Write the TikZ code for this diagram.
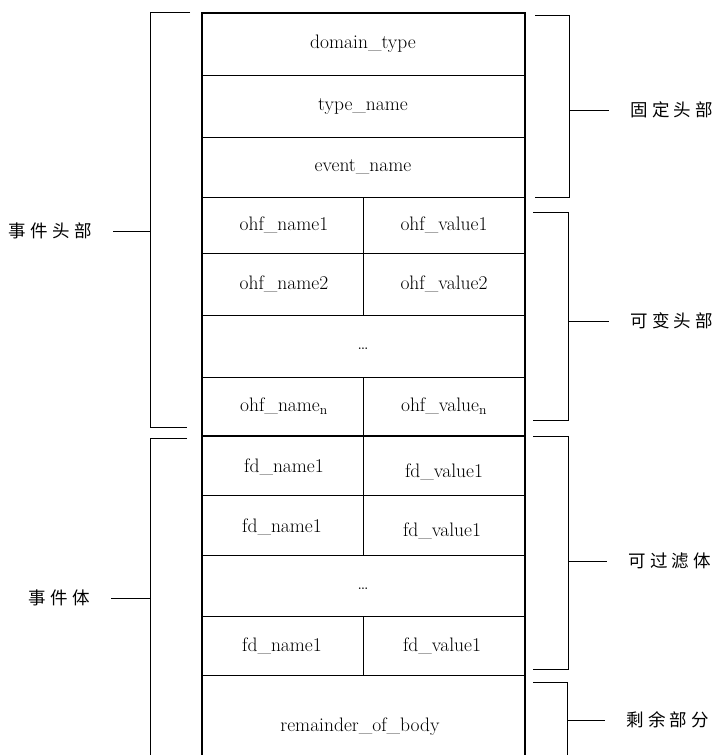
\documentclass[tikz,border=0pt]{standalone}
\usepackage{fontspec}
\newfontfamily\cjk[LetterSpace=25]{Noto Sans CJK SC}
\tikzset{
  field/.style={font=\fontsize{19.5}{21}\selectfont},
  part/.style={font=\cjk\fontsize{17.5}{20}\selectfont,inner sep=0pt},
  frame/.style={line width=1.4pt},
  tick/.style={shorten >=21pt},
}
\begin{document}
\begin{tikzpicture}[x=1pt,y=-1pt]
  \useasboundingbox (0,0) rectangle (713,755);
  % table
  \draw[frame] (202,755) -- (202,13) -- (525,13) -- (525,755);
  \foreach \y in {75,137,197,253,315,377,495,555,616,675}
    \draw (202,\y) -- (525,\y);
  \draw[frame] (202,436) -- (525,436);
  \draw (363,197) -- (363,315);
  \draw (363,377) -- (363,555);
  \draw (363,616) -- (363,675);
  % fields
  \node[field] (dom) at (363,44) {domain\_type};
  \node[field] (typ) at (363,106) {type\_name};
  \node[field] (evt) at (363,167) {event\_name};
  \node[field] (on1) at (284,225) {ohf\_name1};
  \node[field] (ov1) at (444,225) {ohf\_value1};
  \node[field] (on2) at (284,284) {ohf\_name2};
  \node[field] (ov2) at (444,284) {ohf\_value2};
  \node[field] (odots) at (363,349) {\dots};
  \node[field] (onn) at (284,406) {ohf\_name\textsubscript{n}};
  \node[field] (ovn) at (444,406) {ohf\_value\textsubscript{n}};
  \node[field] (fn1) at (284,467) {fd\_name1};
  \node[field] (fv1) at (444,472) {fd\_value1};
  \node[field] (fn2) at (282,527) {fd\_name1};
  \node[field] (fv2) at (442,531) {fd\_value1};
  \node[field] (fdots) at (363,589) {\dots};
  \node[field] (fn3) at (282,646) {fd\_name1};
  \node[field] (fv3) at (442,646) {fd\_value1};
  \node[field] (rest) at (360,727) {remainder\_of\_body};
  % left brackets
  \node[part,anchor=east] (head) at (92,231) {事件头部};
  \node[part,anchor=east] (body) at (90,598) {事件体};
  \draw (190,12) -| (150,427) -- (187,427);
  \draw[tick] (150,231) -- (head);
  \draw (187,438) -- (150,438) -- (150,755);
  \draw[tick] (150,598) -- (body);
  % right brackets
  \node[part,anchor=west] (fixed) at (630,110) {固定头部};
  \node[part,anchor=west] (var) at (630,321) {可变头部};
  \node[part,anchor=west] (filt) at (628,561) {可过滤体};
  \node[part,anchor=west] (remain) at (626,720) {剩余部分};
  \draw (535,15) -| (569,197) -- (535,197);
  \draw[tick] (569,110) -- (fixed);
  \draw (533,212) -| (568,420) -- (533,420);
  \draw[tick] (568,321) -- (var);
  \draw (533,436) -| (568,669) -- (533,669);
  \draw[tick] (568,561) -- (filt);
  \draw (533,682) -| (567,755);
  \draw[tick] (567,720) -- (remain);
\end{tikzpicture}
\end{document}
